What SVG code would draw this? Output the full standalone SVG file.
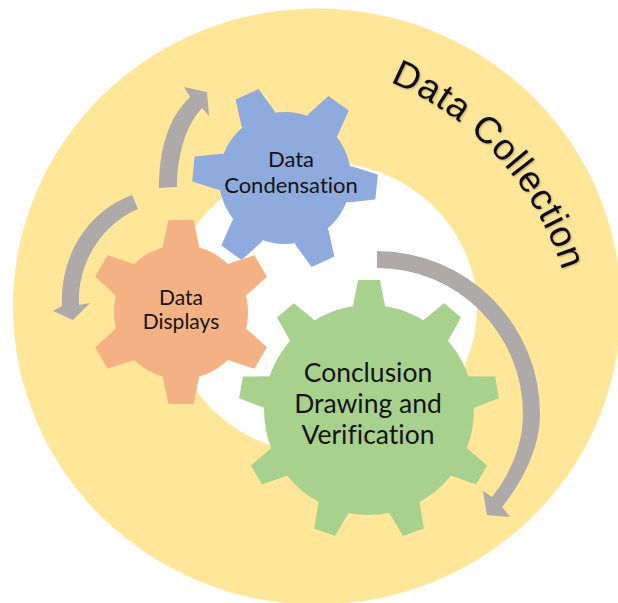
<svg xmlns="http://www.w3.org/2000/svg" xmlns:xlink="http://www.w3.org/1999/xlink" width="618" height="603" viewBox="0 0 618 603">
<style>
.lbl{font-family:Lato,"Liberation Sans",sans-serif;fill:#141414;text-anchor:middle;font-variant-ligatures:none}
.arrow{fill:#aeaaaa}
.blue{fill:#8faadc}.orange{fill:#f4b183}.green{fill:#a9d18e}
</style>
<defs>
<polygon id="t6" points="-12.5,-92 12.5,-92 18,-66 18,-58 -18,-58 -18,-66"/>
<polygon id="t9" points="-11,-130 11,-130 16,-104 16,-98 -16,-98 -16,-104"/>
<filter id="sh" x="-10%" y="-10%" width="120%" height="120%"><feDropShadow dx="1" dy="1" stdDeviation="1.2" flood-color="#000" flood-opacity="0.25"/></filter>
<path id="arc" d="M390,82 A302,302 0 0 1 570,300"/>
</defs>
<rect width="618" height="603" fill="#fff"/>
<g id="data-collection">
<ellipse cx="317" cy="306.500" rx="304" ry="298" fill="#ffe699"/>
<ellipse cx="323" cy="308" rx="154" ry="146" fill="#fff"/>
<text font-family="'Liberation Sans',Arial,sans-serif" font-size="37" fill="#111" letter-spacing="0.9" filter="url(#sh)"><textPath xlink:href="#arc" href="#arc">Data Collection</textPath></text>
</g>
<g id="connectors">
<path class="arrow" d="M377,251 A163,163 0 0 1 540,414 C540,446 524,480 502,507 L510,517 L487,515 L483,491 L492,497 C511,473 523,444 523,414 A146,146 0 0 0 377,268 Z"/>
<path class="arrow" d="M132,195 C85,213 60,258 62,306 L53,311 L73,320 L90,303 L79,305 C77,265 100,225 138,209 Z"/>
<path class="arrow" d="M159,188 C159,150 168,118 190,97 L184,87 L207,92 L209,116 L202,108 C186,125 177,155 177,187 Z"/>
</g>
<g id="data-condensation" class="blue">
<circle cx="285" cy="178" r="66"/>
<g transform="translate(285,178)">
<use href="#t6" transform="rotate(35.6)"/><use href="#t6" transform="rotate(95.6)"/><use href="#t6" transform="rotate(155.6)"/><use href="#t6" transform="rotate(215.6)"/><use href="#t6" transform="rotate(275.6)"/><use href="#t6" transform="rotate(335.6)"/>
</g>
<text class="lbl" font-size="22" x="291" y="167">Data</text>
<text class="lbl" font-size="22" x="291" y="193">Condensation</text>
</g>
<g id="data-displays" class="orange">
<circle cx="181" cy="312" r="67"/>
<g transform="translate(181,312)">
<use href="#t6" transform="rotate(0)"/><use href="#t6" transform="rotate(60)"/><use href="#t6" transform="rotate(120)"/><use href="#t6" transform="rotate(180)"/><use href="#t6" transform="rotate(240)"/><use href="#t6" transform="rotate(300)"/>
</g>
<text class="lbl" font-size="21" x="181" y="305">Data</text>
<text class="lbl" font-size="21" x="181" y="329">Displays</text>
</g>
<g id="conclusion-drawing" class="green">
<circle cx="369" cy="410" r="105"/>
<g transform="translate(369,410)">
<use href="#t9" transform="rotate(0)"/><use href="#t9" transform="rotate(40)"/><use href="#t9" transform="rotate(80)"/><use href="#t9" transform="rotate(120)"/><use href="#t9" transform="rotate(160)"/><use href="#t9" transform="rotate(200)"/><use href="#t9" transform="rotate(240)"/><use href="#t9" transform="rotate(280)"/><use href="#t9" transform="rotate(320)"/>
</g>
<text class="lbl" font-size="26.5" x="368" y="382">Conclusion</text>
<text class="lbl" font-size="26.5" x="368" y="413">Drawing and</text>
<text class="lbl" font-size="26.5" x="368" y="444">Verification</text>
</g>
</svg>
